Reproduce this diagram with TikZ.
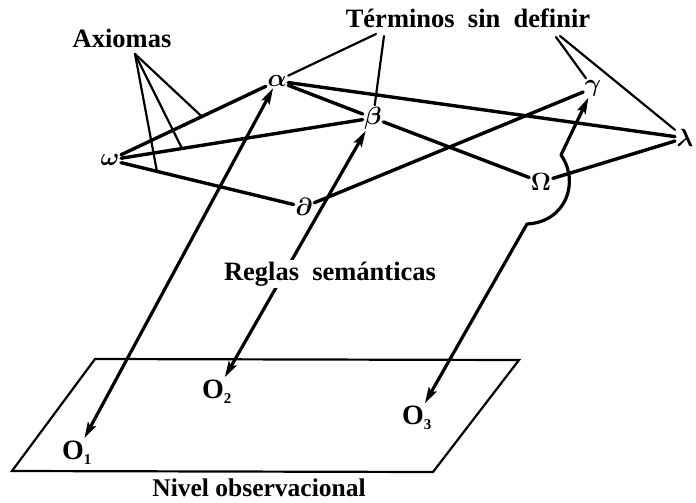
\documentclass[tikz,border=0pt]{standalone}
\usepackage{fontspec}
\usepackage{amsmath}
\setmainfont{Liberation Serif}
\usetikzlibrary{arrows.meta,calc}
\begin{document}
\begin{tikzpicture}[x=1pt,y=-1pt,
  lbl/.style={font=\fontsize{26.5}{30}\selectfont\bfseries, inner sep=1pt, anchor=base},
  gr/.style={font=\fontsize{25}{28}\selectfont, inner sep=1.5pt},
  edge/.style={line width=3.4pt, line cap=round},
  ptr/.style={line width=2.2pt, line cap=round},
  arr/.style={line width=3.2pt, {Stealth[length=16pt,width=9pt,inset=3pt]}-{Stealth[length=16pt,width=9pt,inset=3pt]}},
  obs/.style={font=\fontsize{28}{30}\selectfont\bfseries, inner sep=2pt, anchor=base west},
  plane/.style={line width=2.2pt, line join=miter}
]
\useasboundingbox (0,0) rectangle (696,503);

% Greek nodes
\node[gr] (al) at (277,81) {$\boldsymbol{\alpha}$};
\node[gr] (be) at (373,118) {$\boldsymbol{\beta}$};
\node[gr] (ga) at (593,88) {$\boldsymbol{\gamma}$};
\node[gr] (la) at (685,138) {$\boldsymbol{\lambda}$};
\node[gr] (Om) at (541,182) {$\boldsymbol{\Omega}$};
\node[gr] (om) at (110,160) {$\boldsymbol{\omega}$};
\node[gr] (pa) at (304,207) {$\boldsymbol{\partial}$};

% labels
\node[lbl] (ax) at (122,48) {Axiomas};
\node[lbl] (te) at (468,28) {Términos\ \ sin\ \ definir};

% observational nodes
\node[obs] (o1) at (60,459) {O\raisebox{-5pt}{\fontsize{15}{15}\selectfont 1}};
\node[obs] (o2) at (200,398) {O\raisebox{-5pt}{\fontsize{15}{15}\selectfont 2}};
\node[obs] (o3) at (400,424) {O\raisebox{-5pt}{\fontsize{15}{15}\selectfont 3}};

% plane
\coordinate (p1) at (95,359);
\coordinate (p2) at (519,360);
\coordinate (p3) at (433,472);
\coordinate (p4) at (12,471);
\draw[plane] (p1) -- (p2) -- (p3) -- (p4) -- cycle;
\node[lbl, font=\fontsize{25.5}{28}\selectfont\bfseries] (ni) at (259,496) {Nivel observacional};

% edges
\draw[edge] (om) -- (al);
\draw[edge] (om) -- (be);
\draw[edge] (om) -- (pa);
\draw[edge] (al) -- (be);
\draw[edge] (al) -- (la);
\draw[edge] (be) -- (Om);
\draw[edge] (Om) -- (la);
\draw[edge] (pa) -- (ga);

% pointers from Axiomas
\coordinate (axp) at (135,54);
\coordinate (ax1) at ($(om)!0.55!(al)$);
\coordinate (ax2) at ($(om)!0.274!(be)$);
\coordinate (ax3) at ($(om)!0.242!(pa)$);
\draw[ptr] (axp) -- (ax1);
\draw[ptr] (axp) -- (ax2);
\draw[ptr] (axp) -- (ax3);

% pointers from Terminos
\coordinate (tp1) at (376,34);
\coordinate (tp2) at (384,36);
\coordinate (tp3) at (556,37);
\coordinate (tp4) at (560,36);
\draw[ptr] (tp1) -- (al);
\draw[ptr] (tp2) -- (be);
\draw[ptr] (tp3) -- (ga);
\draw[ptr] (tp4) -- (la);

% semantic rules arrows
\draw[arr] (al) -- (o1);
\draw[arr] (be) -- (o2);
\coordinate (h1) at (561,155);
\coordinate (h2) at (527,224);
\draw[arr, line join=round] (ga) -- (h1) .. controls (580,182) and (566,222) .. (h2) -- (o3);

\node[lbl, fill=white, inner sep=2pt] (re) at (330,280) {Reglas\ \ semánticas};
\end{tikzpicture}
\end{document}
